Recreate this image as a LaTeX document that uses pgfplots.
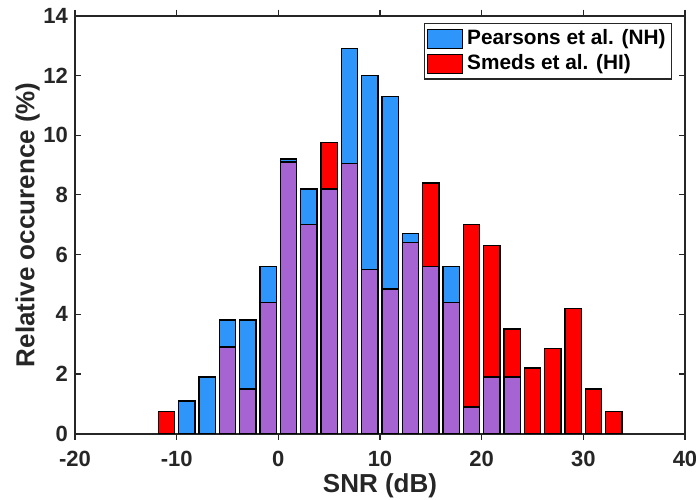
\documentclass[border=0pt]{standalone}
\usepackage{pgfplots}
\pgfplotsset{compat=1.18}
\usepackage{fontspec}
\setmainfont{Liberation Sans}
\definecolor{nhblue}{RGB}{46,150,250}
\definecolor{hired}{RGB}{255,0,0}
\definecolor{ovpurple}{RGB}{165,100,210}
\definecolor{axgray}{RGB}{38,38,38}
\begin{document}
\begin{tikzpicture}
\begin{axis}[
  scale only axis, width=305pt, height=209pt,
  xmin=-20, xmax=40, ymin=0, ymax=14,
  xtick={-20,-10,...,40}, ytick={0,2,...,14},
  tick align=inside, major tick length=3pt,
  axis line style={line width=1pt, color=axgray},
  every tick/.style={axgray, line width=0.6pt},
  tick label style={font=\fontsize{11}{13}\selectfont\bfseries, text=axgray},
  xticklabel style={yshift=-2pt},
  /pgf/number format/assume math mode=true,
  xlabel={SNR (dB)}, ylabel={Relative occurence (\%)},
  label style={font=\fontsize{13}{15}\selectfont\bfseries, text=axgray},
  xlabel style={yshift=3pt},
  ylabel style={yshift=-5pt},
  ybar, bar width=1.6, bar shift=0pt,
  legend style={at={(rel axis cs:0.979,0.982)}, anchor=north east,
    font=\fontsize{10.4}{12}\selectfont\bfseries, draw=axgray, line width=0.6pt,
    inner sep=1pt, row sep=-0.5pt, cells={anchor=west}},
  legend image code/.code={\draw[#1,line width=0.75pt] (0pt,-4.75pt) rectangle (17.5pt,4.75pt);},
]
% Pearsons et al. (NH)
\addplot[fill=nhblue, draw=black, line width=0.75pt] coordinates {
 (-9,1.1) (-7,1.9) (-5,3.8) (-3,3.8) (-1,5.6) (1,9.2) (3,8.2) (5,8.2)
 (7,12.9) (9,12.0) (11,11.3) (13,6.7) (15,5.6) (17,5.6) (19,0.9) (21,1.9) (23,1.9)};
\addlegendentry{Pearsons et al. (NH)}
% Smeds et al. (HI)
\addplot[fill=hired, draw=black, line width=0.75pt] coordinates {
 (-11,0.75) (-5,2.9) (-3,1.5) (-1,4.4) (1,9.1) (3,7.0) (5,9.75) (7,9.05)
 (9,5.5) (11,4.85) (13,6.4) (15,8.4) (17,4.4) (19,7.0) (21,6.3) (23,3.5)
 (25,2.2) (27,2.85) (29,4.2) (31,1.5) (33,0.75)};
\addlegendentry{Smeds et al. (HI)}
% overlap
\addplot[forget plot, fill=ovpurple, draw=black, line width=0.75pt] coordinates {
 (-5,2.9) (-3,1.5) (-1,4.4) (1,9.1) (3,7.0) (5,8.2) (7,9.05) (9,5.5)
 (11,4.85) (13,6.4) (15,5.6) (17,4.4) (19,0.9) (21,1.9) (23,1.9)};
\end{axis}
\path (current axis.south west) ++(-37.5pt,-32.75pt) coordinate (bbl);
\path (current axis.north east) ++(5.5pt,7.85pt) coordinate (btr);
\pgfresetboundingbox
\path (bbl) rectangle (btr);
\end{tikzpicture}
\end{document}
